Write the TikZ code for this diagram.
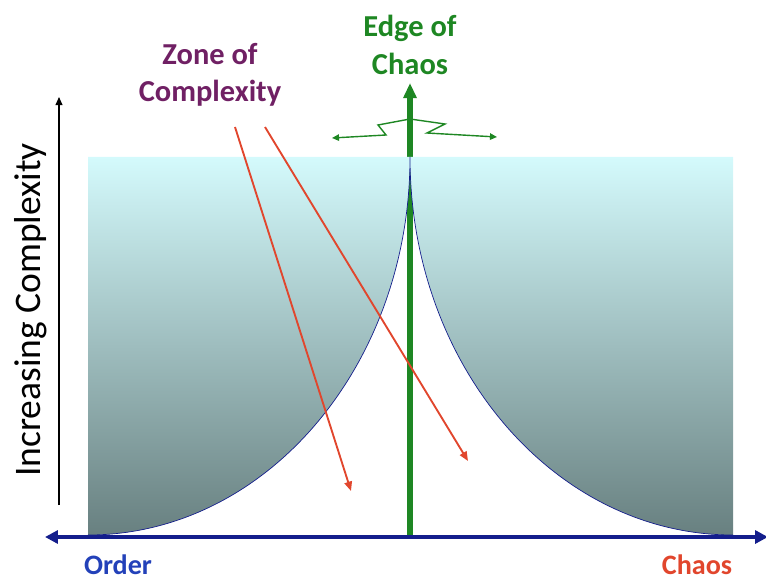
\documentclass[tikz,border=0pt]{standalone}
\usepackage{fontspec}
\setmainfont{Carlito}
\definecolor{edgegreen}{RGB}{30,135,35}
\definecolor{zonepurple}{RGB}{112,32,100}
\definecolor{axisnavy}{RGB}{20,30,140}
\definecolor{orderblue}{RGB}{35,65,185}
\definecolor{chaosred}{RGB}{225,70,45}
\definecolor{shadetop}{RGB}{212,250,252}
\definecolor{shademid}{RGB}{163,200,203}
\definecolor{shadebottom}{RGB}{104,128,128}
\usetikzlibrary{positioning,arrows.meta,calc}

\begin{document}
\begin{tikzpicture}[x=0.03cm,y=0.03cm,
    headtext/.style={font=\bfseries\fontsize{26}{32}\selectfont,align=center},
    endtext/.style={font=\bfseries\fontsize{24}{28}\selectfont,inner sep=1pt},
    zonearrow/.style={-{Triangle[length=8pt,width=6.5pt]},line width=1.6pt,chaosred},
    wiggle/.style={{Triangle[length=6pt,width=5.5pt]}-{Triangle[length=6pt,width=5.5pt]},line width=1.2pt,edgegreen}
]
    \useasboundingbox (0,0) rectangle (766,580);

    % edge of chaos line, behind the shaded field
    \coordinate (eocbase) at (410,43);
    \coordinate (eoctop) at (410,497);
    \draw[edgegreen,line width=4.5pt,-{Triangle[length=13pt,width=11pt]}] (eocbase) -- (eoctop);

    \shade[top color=shadetop,middle color=shademid,bottom color=shadebottom]
        (88,45) -- (88,423) -- (733,423) -- (733,45)
        arc[start angle=270,end angle=180,x radius=323,y radius=378]
        arc[start angle=0,end angle=-90,x radius=322,y radius=378] -- cycle;
    \draw[axisnavy,line width=0.6pt]
        (88,45) arc[start angle=-90,end angle=0,x radius=322,y radius=378]
        arc[start angle=180,end angle=270,x radius=323,y radius=378];

    % axes
    \coordinate (orderend) at (45,43);
    \coordinate (chaosend) at (768,43);
    \draw[axisnavy,line width=3.6pt,{Triangle[length=11pt,width=11pt]}-{Triangle[length=11pt,width=11pt]}] (orderend) -- (chaosend);
    \coordinate (cplxlow) at (59,75);
    \coordinate (cplxhigh) at (59,483);
    \draw[line width=1.1pt,-{Triangle[length=7pt,width=6pt]}] (cplxlow) -- (cplxhigh);

    \node[endtext,orderblue] (order) at (118,15) {Order};
    \node[endtext,chaosred] (chaos) at (697,15) {Chaos};
    \node[rotate=90,font=\fontsize{32}{38}\selectfont] (incr) at (31,270) {Increasing Complexity};

    \node[headtext,edgegreen] (edge) at (410,535) {Edge of\\Chaos};
    \node[headtext,zonepurple] (zone) at (210,505) {Zone of\\Complexity};

    % sideways wobble of the edge
    \coordinate (wigl) at (332,442);
    \coordinate (wigr) at (497,443);
    \draw[wiggle] (wigl) -- (386,445) -- (378,455) -- (410,461) -- (445,456) -- (427,447) -- (wigr);

    % pointers into the zone
    \coordinate (zs1) at (235,453);
    \coordinate (zt1) at (351,89);
    \coordinate (zs2) at (265,453);
    \coordinate (zt2) at (468,119);
    \draw[zonearrow] (zs1) -- (zt1);
    \draw[zonearrow] (zs2) -- (zt2);
\end{tikzpicture}
\end{document}
